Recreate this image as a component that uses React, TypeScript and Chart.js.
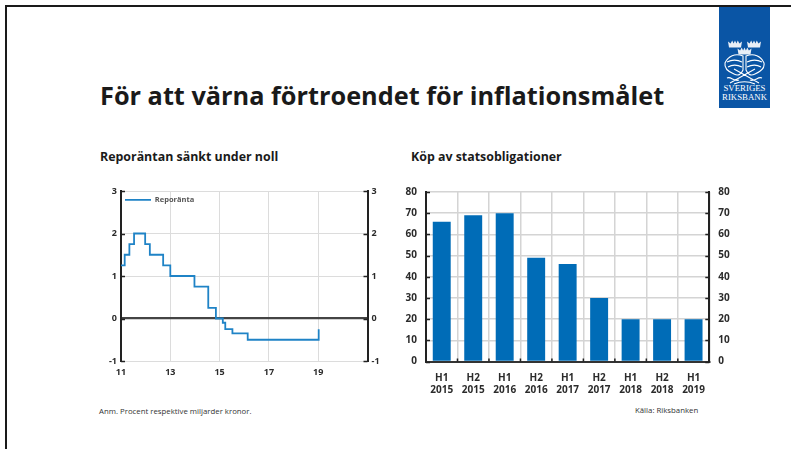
import React, { useEffect, useRef } from "react";
import { Chart, registerables } from "chart.js";

Chart.register(...registerables);

const rateDates = [11, 11.15, 11.34, 11.53, 11.98, 12.17, 12.71, 13.0, 13.98, 14.54, 14.85, 15.13, 15.23, 15.52, 16.14, 19.02, 19.02];
const rateValues = [1.25, 1.5, 1.75, 2, 1.75, 1.5, 1.25, 1, 0.75, 0.25, 0, -0.1, -0.25, -0.35, -0.5, -0.5, -0.25];
const bondCategories = [["H1", "2015"], ["H2", "2015"], ["H1", "2016"], ["H2", "2016"], ["H1", "2017"], ["H2", "2017"], ["H1", "2018"], ["H2", "2018"], ["H1", "2019"]];
const bondValues = [66, 69, 70, 49, 46, 30, 20, 20, 20];

const FONT = "'Open Sans', sans-serif";
const DARK = "#2b2b2b";
const GRID = "#d4d4d4";

const inwardTicks = {
  id: "inwardTicks",
  afterDraw(chart: any) {
    const { ctx, chartArea: a, scales } = chart;
    ctx.save();
    ctx.strokeStyle = "#222";
    ctx.lineWidth = 1.5;
    const y = scales.y;
    y.ticks.forEach((_: any, i: number) => {
      const p = Math.round(y.getPixelForTick(i)) + 0.5;
      ctx.beginPath();
      ctx.moveTo(a.left, p);
      ctx.lineTo(a.left + 4, p);
      ctx.moveTo(a.right - 4, p);
      ctx.lineTo(a.right, p);
      ctx.stroke();
    });
    if (chart.config.type === "bar") {
      const x = scales.x;
      const n = x.ticks.length;
      for (let i = 1; i < n; i++) {
        const p = (x.getPixelForTick(i - 1) + x.getPixelForTick(i)) / 2;
        ctx.beginPath();
        ctx.moveTo(p, a.bottom);
        ctx.lineTo(p, a.bottom - 3);
        ctx.stroke();
      }
    }
    ctx.restore();
  },
};

function yAxis(position: string, width: number, min: number, max: number, step: number, size: number, pad: number, showGrid: boolean, gridOpts: any = {}) {
  return {
    type: "linear",
    position,
    min,
    max,
    afterFit: (s: any) => { s.width = width; },
    ticks: { stepSize: step, color: DARK, padding: pad, font: { family: FONT, size, weight: "bold" } },
    border: { color: "#222", width: 2 },
    grid: { display: showGrid, drawTicks: false, ...gridOpts },
  };
}

export default function App() {
  const lineRef = useRef<HTMLCanvasElement>(null);
  const barRef = useRef<HTMLCanvasElement>(null);

  useEffect(() => {
    const line = new Chart(lineRef.current!, {
      type: "scatter",
      plugins: [inwardTicks],
      data: {
        datasets: [{
          label: "Reporänta",
          data: rateDates.map((x, i) => ({ x, y: rateValues[i] })),
          showLine: true,
          stepped: true,
          borderColor: "#1f83c6",
          backgroundColor: "#1f83c6",
          borderWidth: 1.8,
          pointRadius: 0,
        }],
      },
      options: {
        animation: false,
        responsive: false,
        layout: { padding: { top: 11 } },
        plugins: {
          tooltip: { enabled: false },
          legend: {
            position: "chartArea",
            align: "start",
            title: { display: true, text: "", padding: { top: 8, bottom: 3 }, font: { size: 1 } },
            labels: {
              boxWidth: 26,
              boxHeight: 0,
              padding: 4,
              color: "#555",
              font: { family: FONT, size: 7.5, weight: "bold" },
            },
          },
        },
        scales: {
          x: {
            type: "linear",
            min: 11,
            max: 21,
            afterFit: (s: any) => { s.height = 24; },
            ticks: {
              stepSize: 2,
              color: DARK,
              padding: 6,
              maxRotation: 0,
              font: { family: FONT, size: 9, weight: "bold" },
              callback: (v: any) => (v <= 19 ? String(v) : ""),
            },
            border: { display: false },
            grid: { color: "#dcdcdc", lineWidth: 1, drawTicks: false },
          },
          y: yAxis("left", 31, -1, 3, 1, 9, 4, true, {
            color: (c: any) => (c.tick && c.tick.value === 0 ? "#444" : "#dcdcdc"),
            lineWidth: (c: any) => (c.tick && c.tick.value === 0 ? 2.2 : 1),
          }),
          y2: yAxis("right", 32.5, -1, 3, 1, 9, 4, false),
        },
      } as any,
    } as any);

    const bar = new Chart(barRef.current!, {
      type: "bar",
      plugins: [inwardTicks],
      data: {
        labels: bondCategories,
        datasets: [{
          data: bondValues,
          backgroundColor: "#006cb7",
          barPercentage: 0.57,
          categoryPercentage: 1,
        }],
      },
      options: {
        animation: false,
        responsive: false,
        layout: { padding: { top: 8 } },
        plugins: { legend: { display: false }, tooltip: { enabled: false } },
        scales: {
          x: {
            afterFit: (s: any) => { s.height = 38.5; },
            ticks: {
              color: DARK,
              padding: 10,
              maxRotation: 0,
              autoSkip: false,
              font: { family: FONT, size: 10, weight: "bold", lineHeight: 1.25 },
            },
            border: { color: "#333", width: 2 },
            grid: { color: GRID, lineWidth: 1.5, drawTicks: false },
          },
          y: yAxis("left", 26, 0, 80, 10, 10, 9, true, { color: GRID, lineWidth: 1.5 }),
          y2: yAxis("right", 30.7, 0, 80, 10, 10, 9, false),
        },
      } as any,
    } as any);

    return () => {
      line.destroy();
      bar.destroy();
    };
  }, []);

  const abs = (o: React.CSSProperties): React.CSSProperties => ({ position: "absolute", whiteSpace: "nowrap", fontFamily: FONT, color: "#1a1a1a", ...o });
  const crown = "m-6 6.5 l-1-6 2.6 2 1.6-3 1.4 3 1.4-3 1.4 3 1.4-3 1.6 3 2.6-2 -1 6z";

  return (
    <div style={{ position: "absolute", left: 0, top: 0, width: 791, height: 449, background: "#fff", overflow: "hidden" }}>
      <div style={{ position: "absolute", left: 5, top: 5, width: 786, height: 2, background: "#1a1a1a" }} />
      <div style={{ position: "absolute", left: 5, top: 5, width: 2, height: 444, background: "#1a1a1a" }} />

      <svg style={{ position: "absolute", left: 719, top: 7 }} width={51} height={101} viewBox="0 0 51 101">
        <rect width={51} height={101} fill="#0a55a5" />
        <g fill="#e8eef6" stroke="none">
          <path d={"M16 34" + crown} />
          <path d={"M35 34" + crown} />
          <path d={"M25.5 41" + crown} />
        </g>
        <g fill="none" stroke="#fff" strokeWidth={1.1}>
          <path d="M24 49 C16 46 9 49 6 56 C5 62 10 65 15 67 C19 69 22 68 24 63 Z" />
          <path d="M27 49 C35 46 42 49 45 56 C46 62 41 65 36 67 C32 69 29 68 27 63 Z" />
          <path d="M8 55 C14 52 19 53 23 55 M9 60 C14 57 19 58 23 60 M28 55 C32 53 37 52 43 55 M28 60 C32 58 37 57 42 60" />
          <path d="M11 76 L36 62 M40 76 L15 62 M8 71 C12 69 15 75 20 73 M43 71 C39 69 36 75 31 73 M15 77 C22 74 29 74 36 77" />
        </g>
        <text x={25.5} y={84} textAnchor="middle" fill="#fff" fontFamily="'Liberation Serif', serif" fontSize={8.8}>SVERIGES</text>
        <text x={25.5} y={93} textAnchor="middle" fill="#fff" fontFamily="'Liberation Serif', serif" fontSize={8.8}>RIKSBANK</text>
      </svg>

      <div style={abs({ left: 100, top: 77, fontSize: 25.3, lineHeight: "37px", fontWeight: 700 })}>För att värna förtroendet för inflationsmålet</div>
      <div style={abs({ left: 100, top: 149, fontSize: 12.4, lineHeight: "16px", fontWeight: 700 })}>Reporäntan sänkt under noll</div>
      <div style={abs({ left: 411, top: 149, fontSize: 12.4, lineHeight: "16px", fontWeight: 700 })}>Köp av statsobligationer</div>

      <canvas ref={lineRef} width={310} height={205} style={{ position: "absolute", left: 90, top: 180 }} />
      <canvas ref={barRef} width={340} height={223} style={{ position: "absolute", left: 400, top: 177 }} />

      <div style={abs({ left: 99, top: 405, fontSize: 7.8, lineHeight: "12px", color: "#333" })}>Anm. Procent respektive miljarder kronor.</div>
      <div style={abs({ left: 635, top: 404, fontSize: 7.8, lineHeight: "12px", color: "#333" })}>Källa: Riksbanken</div>
    </div>
  );
}
